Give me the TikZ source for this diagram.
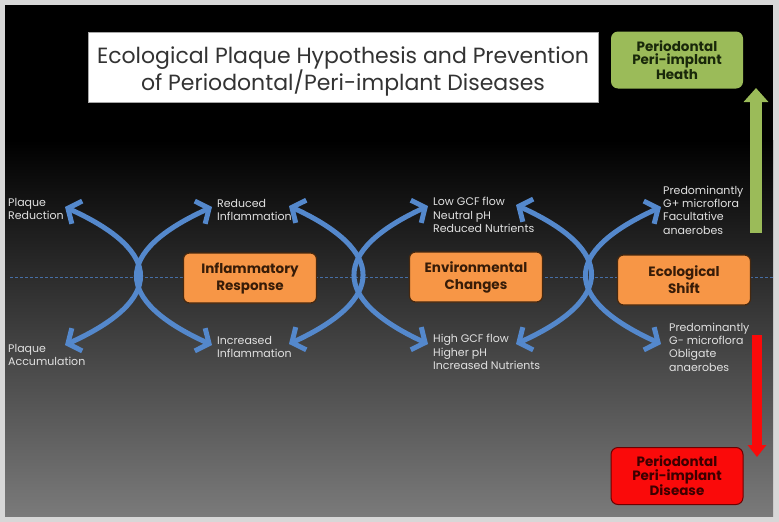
\documentclass[tikz,border=0pt]{standalone}
\usepackage{fontspec}
\setmainfont{Poppins}
\usepackage{tikz}
\usetikzlibrary{positioning, arrows.meta}

\definecolor{framegray}{RGB}{215,215,215}
\definecolor{slidegray}{RGB}{122,122,122}
\definecolor{swingblue}{RGB}{84,136,204}
\definecolor{midblue}{RGB}{70,110,165}
\definecolor{stageorange}{RGB}{247,150,70}
\definecolor{stageedge}{RGB}{70,40,15}
\definecolor{stagetext}{RGB}{55,28,8}
\definecolor{notegray}{RGB}{225,225,225}
\definecolor{healthgreen}{RGB}{155,187,89}
\definecolor{healthtext}{RGB}{25,40,10}
\definecolor{diseasered}{RGB}{250,10,10}
\definecolor{diseaseedge}{RGB}{110,0,0}
\definecolor{diseasetext}{RGB}{60,0,0}

\begin{document}
\begin{tikzpicture}[x=1pt, y=-1pt,
    stage/.style={draw=stageedge, line width=1.2pt, fill=stageorange, rounded corners=6pt,
        minimum width=133pt, minimum height=50pt, align=center, text=stagetext,
        font=\bfseries\fontsize{13.5}{17}\selectfont},
    goal/.style={rounded corners=7pt, minimum width=132pt, minimum height=57pt, align=center,
        font=\bfseries\fontsize{13.5}{13.5}\selectfont},
    note/.style={align=left, anchor=west, inner sep=0pt, text=notegray,
        font=\fontsize{11}{13.4}\selectfont},
    swing/.style={swingblue, line width=5pt,
        {Straight Barb[length=10pt, width=25pt]}-{Straight Barb[length=10pt, width=25pt]}}]
    \useasboundingbox (0,0) rectangle (779,522);
    % slide background
    \fill[framegray] (0,0) rectangle (779,522);
    \fill[black] (5,5) rectangle (773,516);
    \shade[top color=black, bottom color=slidegray] (5,140) rectangle (773,516);
    \draw[midblue, line width=0.8pt, dash pattern=on 3pt off 2pt] (10,277) -- (773,277);

    \node [draw=gray!70, fill=white, minimum width=510pt, minimum height=70pt, align=center,
        text=black!80, font=\fontsize{22}{27}\selectfont] (heading) at (343,67)
        {\rule{0pt}{26pt}Ecological Plaque Hypothesis and Prevention\\of Periodontal/Peri-implant Diseases};

    \node [goal, fill=healthgreen, text=healthtext] (health) at (677,60) {Periodontal\\Peri-implant\\Heath};
    \node [goal, draw=diseaseedge, line width=1pt, fill=diseasered, text=diseasetext] (disease) at (677,476) {Periodontal\\Peri-implant\\Disease};

    % the three stages
    \node [stage] (inflam) at (250,278) {Inflammatory\\Response};
    \node [stage] (environ) at (476,277) {Environmental\\Changes};
    \node [stage] (shift) at (684,280) {Ecological\\Shift};

    % outcomes
    \node [note] (plaqueless) at (8,209) {Plaque\\Reduction};
    \node [note] (plaquemore) at (8,355) {Plaque\\Accumulation};
    \node [note] (inflamless) at (217,210) {Reduced\\Inflammation};
    \node [note] (inflammore) at (217,347) {Increased\\Inflammation};
    \node [note] (gcflow) at (433,215) {Low GCF flow\\Neutral pH\\Reduced Nutrients};
    \node [note] (gcfhigh) at (433,352) {High GCF flow\\Higher pH\\Increased Nutrients};
    \node [note] (gpositive) at (663,210) {Predominantly\\G+ microflora\\Facultative\\anaerobes};
    \node [note] (gnegative) at (669,347) {Predominantly\\G- microflora\\Obligate\\anaerobes};

    % arrow tips
    \coordinate (a1) at (65,207);  \coordinate (a2) at (65,345);
    \coordinate (b1) at (212,207); \coordinate (b2) at (212,345);
    \coordinate (c1) at (289,206); \coordinate (c2) at (289,344);
    \coordinate (d1) at (428,206); \coordinate (d2) at (428,344);
    \coordinate (e1) at (516,205); \coordinate (e2) at (516,344);
    \coordinate (f1) at (661,207); \coordinate (f2) at (661,344);

    \draw [swing] (a1) .. controls +(99,45) and +(99,-45) .. (a2);
    \draw [swing] (b1) .. controls +(-99,45) and +(-99,-45) .. (b2);
    \draw [swing] (c1) .. controls +(97,45) and +(97,-45) .. (c2);
    \draw [swing] (d1) .. controls +(-97,45) and +(-97,-45) .. (d2);
    \draw [swing] (e1) .. controls +(99,45) and +(99,-45) .. (e2);
    \draw [swing] (f1) .. controls +(-99,45) and +(-99,-45) .. (f2);

    % health / disease direction
    \coordinate (risefoot) at (756,233);
    \coordinate (risetip) at (756,88);
    \coordinate (fallfoot) at (757,335);
    \coordinate (falltip) at (757,457);
    \draw [healthgreen, line width=12pt, -{Triangle[length=14pt, width=24pt]}] (risefoot) -- (risetip);
    \draw [diseasered, line width=10pt, -{Triangle[length=12pt, width=18pt]}] (fallfoot) -- (falltip);
\end{tikzpicture}
\end{document}
